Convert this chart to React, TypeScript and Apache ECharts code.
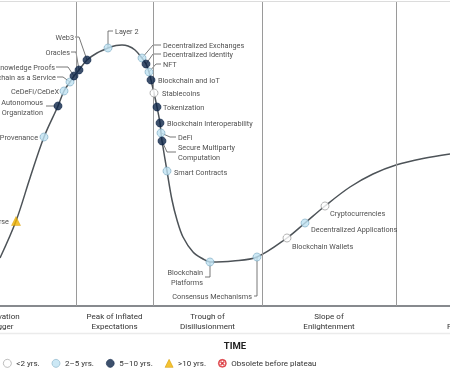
import React, { useEffect, useRef } from "react";
import * as echarts from "echarts";

// Hype curve (time vs expectations)
const curveX = [0, 16, 30, 44, 58, 64, 70, 74, 79, 87, 97, 108, 116, 122, 128, 135, 142, 146, 149, 151, 154, 157, 160, 161, 162, 167, 172, 177, 183, 193, 203, 210, 233, 257, 287, 305, 325, 350, 373, 396, 423, 450];
const curveY = [48, 85, 128, 169, 200, 215, 224, 230, 236, 246, 253, 258, 260.5, 261, 260, 256, 248, 242, 234, 226, 213, 199, 183, 173, 165, 135, 106, 86, 69, 54, 47, 44, 45, 49, 68, 83, 100, 119, 132, 141, 147.5, 152];

// Technologies on the curve
const techNames = [
  "Metaverse", "Provenance", "Decentralized Autonomous Organization", "CeDeFi/CeDeX",
  "Blockchain as a Service", "Zero-Knowledge Proofs", "Oracles", "Web3", "Layer 2",
  "Decentralized Exchanges", "Decentralized Identity", "NFT", "Blockchain and IoT",
  "Stablecoins", "Tokenization", "Blockchain Interoperability", "DeFi",
  "Secure Multiparty Computation", "Smart Contracts", "Blockchain Platforms",
  "Consensus Mechanisms", "Blockchain Wallets", "Decentralized Applications", "Cryptocurrencies",
];
const techX = [16, 44, 58, 64, 70, 74, 79, 87, 108, 142, 146, 149, 151, 154, 157, 160, 161, 162, 167, 210, 257, 287, 305, 325];
const techY = [85, 169, 200, 215, 224, 230, 236, 246, 258, 248, 242, 234, 226, 213, 199, 183, 173, 165, 135, 44, 49, 68, 83, 100];
// 0: <2 yrs, 1: 2-5 yrs, 2: 5-10 yrs, 3: >10 yrs
const techMaturity = [3, 1, 2, 1, 1, 2, 2, 2, 1, 1, 2, 1, 2, 0, 2, 2, 1, 2, 1, 1, 1, 0, 1, 0];

const maturityLevels = ["<2 yrs.", "2–5 yrs.", "5–10 yrs.", ">10 yrs.", "Obsolete before plateau"];

const phaseNames = ["Innovation\nTrigger", "Peak of Inflated\nExpectations", "Trough of\nDisillusionment", "Slope of\nEnlightenment", "Plateau of\nProductivity"];
const phaseBounds = [-74, 76, 153, 262, 396, 540];

type Placement = { dx: number; dy: number; align?: string; text?: string; leader?: number[][] };
const placements: Record<string, Placement> = {
  "Metaverse": { dx: -7, dy: 0, align: "right" },
  "Provenance": { dx: -6, dy: 0, align: "right" },
  "Decentralized Autonomous Organization": { dx: -15, dy: 1, align: "right", text: "Decentralized Autonomous\nOrganization", leader: [[-3, 0], [-12, 0]] },
  "CeDeFi/CeDeX": { dx: -5, dy: 0, align: "right" },
  "Blockchain as a Service": { dx: -14, dy: -5, align: "right", leader: [[0, 0], [-7, -5], [-13, -5]] },
  "Zero-Knowledge Proofs": { dx: -19, dy: -9, align: "right", leader: [[0, 0], [-6, -9], [-18, -9]] },
  "Oracles": { dx: -9, dy: -18, align: "right", leader: [[0, 0], [-3, -18], [-8, -18]] },
  "Web3": { dx: -13, dy: -23, align: "right", leader: [[0, 0], [-8, -23], [-12, -23]] },
  "Layer 2": { dx: 7, dy: -17, leader: [[0, 0], [0, -17], [5, -17]] },
  "Decentralized Exchanges": { dx: 21, dy: -13, leader: [[0, 0], [11, -13], [19, -13]] },
  "Decentralized Identity": { dx: 17, dy: -10, leader: [[0, 0], [7, -10], [15, -10]] },
  "NFT": { dx: 14, dy: -8, leader: [[0, 0], [7, -8], [12, -8]] },
  "Blockchain and IoT": { dx: 7, dy: 0 },
  "Stablecoins": { dx: 8, dy: 0 },
  "Tokenization": { dx: 6, dy: 0 },
  "Blockchain Interoperability": { dx: 7, dy: 0 },
  "DeFi": { dx: 17, dy: 4, leader: [[0, 0], [9, 4], [15, 4]] },
  "Secure Multiparty Computation": { dx: 16, dy: 11, text: "Secure Multiparty\nComputation", leader: [[0, 0], [5, 11], [14, 11]] },
  "Smart Contracts": { dx: 7, dy: 1 },
  "Blockchain Platforms": { dx: -7, dy: 15, align: "right", text: "Blockchain\nPlatforms", leader: [[0, 0], [0, 15], [-5, 15]] },
  "Consensus Mechanisms": { dx: -5, dy: 39, align: "right", leader: [[0, 0], [0, 39], [-3, 39]] },
  "Blockchain Wallets": { dx: 5, dy: 8 },
  "Decentralized Applications": { dx: 6, dy: 6 },
  "Cryptocurrencies": { dx: 5, dy: 7 },
};

const FONT = "Roboto";

const obsoleteIcon =
  "path://M0,10 A10,10 0 1,1 20,10 A10,10 0 1,1 0,10 Z M2,10 A8,8 0 1,0 18,10 A8,8 0 1,0 2,10 Z " +
  "M6.78,5.22 L14.78,13.22 L13.22,14.78 L5.22,6.78 Z M14.78,6.78 L6.78,14.78 L5.22,13.22 L13.22,5.22 Z";

const maturityStyles = [
  { symbol: "circle", size: 8, itemStyle: { color: "#ffffff", borderColor: "#8a8a8a", borderWidth: 0.8 } },
  { symbol: "circle", size: 8, itemStyle: { color: "#bfe2f2", borderColor: "#7aa8c0", borderWidth: 0.8 } },
  { symbol: "circle", size: 8, itemStyle: { color: "#0c2447", borderColor: "#0c2447", borderWidth: 0.8 } },
  { symbol: "triangle", size: 9, itemStyle: { color: "#f2b400", borderColor: "#d49c00", borderWidth: 0.5 } },
  { symbol: obsoleteIcon, size: 9, itemStyle: { color: "#d8262c", borderColor: "#d8262c", borderWidth: 0 } },
];

export default function App() {
  const ref = useRef<HTMLDivElement>(null);
  useEffect(() => {
    if (!ref.current) return;
    const chart = echarts.init(ref.current, null, { renderer: "svg" });

    const scatterSeries = maturityLevels.map((lvl, m) => {
      const st = maturityStyles[m];
      const data: any[] = [];
      techNames.forEach((name, i) => {
        if (techMaturity[i] !== m) return;
        const p = placements[name] || { dx: 6, dy: 0 };
        data.push({
          name,
          value: [techX[i], techY[i]],
          label: {
            show: true,
            position: "inside",
            offset: [p.dx, p.dy],
            align: p.align || "left",
            verticalAlign: "middle",
            formatter: p.text || name,
            color: "#222",
            fontFamily: FONT,
            fontSize: 7.3,
            lineHeight: 10,
            textBorderWidth: 0,
          },
        });
      });
      return {
        name: lvl,
        type: "scatter",
        symbol: st.symbol,
        symbolSize: st.size,
        itemStyle: st.itemStyle,
        data,
        z: 5,
        silent: true,
      };
    });

    const leaderData: number[][] = [];
    techNames.forEach((name, i) => {
      if (placements[name] && placements[name].leader) leaderData.push([techX[i], techY[i], i]);
    });

    const option: any = {
      animation: false,
      grid: { left: 0, right: 0, top: 2, bottom: 69 },
      xAxis: {
        type: "value",
        min: 0,
        max: 450,
        axisLine: { show: true, lineStyle: { color: "#5f6368", width: 1.5 } },
        axisTick: { show: false },
        axisLabel: { show: false },
        splitLine: { show: false },
      },
      yAxis: {
        type: "value",
        min: 0,
        max: 304,
        show: false,
        splitLine: { show: false },
      },
      legend: {
        left: 3,
        top: 359,
        padding: 0,
        itemWidth: 8,
        itemHeight: 8,
        itemGap: 12,
        data: maturityLevels,
        itemStyle: { borderWidth: 0.7 },
        textStyle: { fontFamily: FONT, fontSize: 8, color: "#333" },
        selectedMode: false,
      },
      series: [
        {
          type: "line",
          data: curveX.map((x, i) => [x, curveY[i]]),
          smooth: 0.35,
          showSymbol: false,
          lineStyle: { color: "#4d5358", width: 1.5 },
          z: 3,
          silent: true,
          markLine: {
            silent: true,
            symbol: "none",
            label: { show: false },
            lineStyle: { color: "#9a9a9a", width: 1, type: "solid" },
            data: phaseBounds.slice(1, -1).map((v) => ({ xAxis: v })),
          },
        },
        {
          type: "custom",
          silent: true,
          z: 4,
          data: leaderData,
          encode: { x: 0, y: 1 },
          renderItem: (params: any, api: any) => {
            const idx = api.value(2);
            const pt = api.coord([api.value(0), api.value(1)]);
            const leader = placements[techNames[idx]].leader || [];
            return {
              type: "polyline",
              shape: { points: leader.map((d) => [pt[0] + d[0], pt[1] + d[1]]) },
              style: { stroke: "#555", lineWidth: 0.8, fill: "none" },
            };
          },
        },
        ...scatterSeries,
      ],
    };
    chart.setOption(option);

    const toPx = (v: number) => chart.convertToPixel({ xAxisIndex: 0 }, v) as number;
    const graphics: any[] = phaseNames.map((name, i) => ({
      type: "text",
      silent: true,
      x: toPx((phaseBounds[i] + phaseBounds[i + 1]) / 2),
      y: 311,
      style: {
        text: name,
        align: "center",
        verticalAlign: "top",
        fontFamily: FONT,
        fontSize: 8,
        lineHeight: 10,
        fill: "#333",
      },
    }));
    graphics.push(
      { type: "line", silent: true, shape: { x1: 0, y1: 1.5, x2: 450, y2: 1.5 }, style: { stroke: "#dcdcdc", lineWidth: 1 } },
      { type: "line", silent: true, shape: { x1: 0, y1: 333.5, x2: 450, y2: 333.5 }, style: { stroke: "#ebebeb", lineWidth: 1.5 } },
      {
        type: "text",
        silent: true,
        x: 235,
        y: 345,
        style: { text: "TIME", align: "center", verticalAlign: "middle", fontFamily: FONT, fontSize: 9.5, fontWeight: "bold", fill: "#222" },
      }
    );
    chart.setOption({ graphic: graphics });

    return () => chart.dispose();
  }, []);
  return <div ref={ref} style={{ position: "fixed", left: 0, top: 0, width: 450, height: 375 }} />;
}
